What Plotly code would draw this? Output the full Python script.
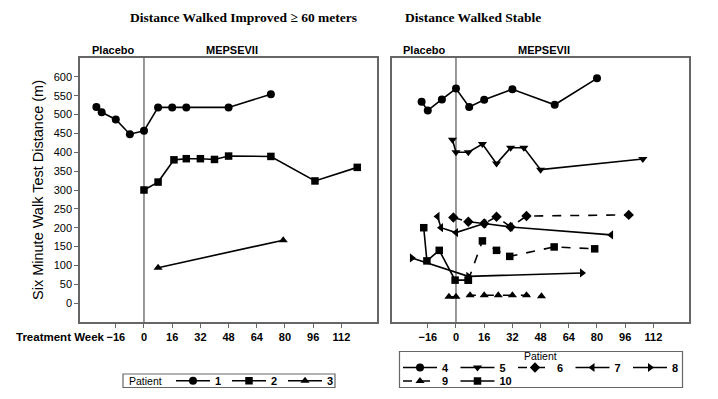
import plotly.graph_objects as go

# ---------------- data ----------------
weeks_ticks = [-16, 0, 16, 32, 48, 64, 80, 96, 112]
dist_ticks = list(range(0, 601, 50))

# Left panel: Distance Walked Improved >= 60 meters
p1_week = [-27, -24, -16, -8, 0, 8, 16, 24, 48, 72]
p1_dist = [520, 506, 487, 448, 457, 519, 519, 519, 519, 554]
p2_week = [0, 8, 17, 24, 32, 40, 48, 72, 97, 121]
p2_dist = [300, 321, 380, 383, 383, 381, 390, 389, 324, 360]
p3_week = [8, 79]
p3_dist = [94, 167]

# Right panel: Distance Walked Stable
p4_week = [-19.5, -16, -8, 0, 7.5, 16, 32, 56, 80]
p4_dist = [534, 511, 540, 569, 520, 539, 567, 526, 596]
p5_week = [-2, 0, 7, 15, 23, 31, 38.5, 48, 106]
p5_dist = [433, 400, 400, 422, 370, 412, 412, 354, 382]
p6_week = [-1.5, 7, 16, 23, 31, 40, 98]
p6_dist = [227, 216, 211, 229, 202, 231, 234]
p7_week = [-10.5, -8.5, 0, 16, 31, 88]
p7_dist = [230, 200, 187, 211, 202, 181]
p8_week = [-25, 7, 71.5]
p8_dist = [120, 71, 80]
p9_week = [-4, 0, 8, 16, 24, 32, 40, 48.5]
p9_dist = [17, 17, 21, 21, 21, 21, 21, 18]
p10_week = [-18.3, -16.5, -9.5, -0.5, 7]
p10_dist = [200, 112, 140, 61, 61]
p10b_week = [7, 15, 23, 30.5, 55.7, 78.7]
p10b_dist = [61, 165, 140, 124, 149, 144]

# ---------------- figure ----------------
W, H = 718, 399
fig = go.Figure()

FONT = "Liberation Sans, Arial, sans-serif"


def add(xs, ys, name, symbol, xa, ya, legend, dash="solid", showlegend=True, group=None, size=8):
    fig.add_trace(go.Scatter(
        x=xs, y=ys, mode="lines+markers", name=name,
        line=dict(color="black", width=1.6, dash=dash),
        marker=dict(symbol=symbol, size=size, color="black"),
        xaxis=xa, yaxis=ya, legend=legend, showlegend=showlegend,
        legendgroup=group or name,
    ))


add(p1_week, p1_dist, "1", "circle", "x", "y", "legend")
add(p2_week, p2_dist, "2", "square", "x", "y", "legend", size=7.5)
add(p3_week, p3_dist, "3", "triangle-up", "x", "y", "legend")

add(p4_week, p4_dist, "4", "circle", "x2", "y2", "legend2")
add(p5_week, p5_dist, "5", "triangle-down", "x2", "y2", "legend2")
add(p6_week, p6_dist, "6", "diamond", "x2", "y2", "legend2", dash="dash")
add(p7_week, p7_dist, "7", "triangle-left", "x2", "y2", "legend2")
add(p8_week, p8_dist, "8", "triangle-right", "x2", "y2", "legend2")
add(p9_week, p9_dist, "9", "triangle-up", "x2", "y2", "legend3", dash="dash")
add(p10_week, p10_dist, "10", "square", "x2", "y2", "legend3", size=7.5)
add(p10b_week, p10b_dist, "10", "square", "x2", "y2", "legend3", dash="dash",
    showlegend=False, group="10", size=7.5)

xr = [-36.3, 132.2]
yr = [-50, 650]
ydom = [(H - 322) / H, (H - 58) / H]
axis_common = dict(showline=True, mirror=True, linecolor="#666", linewidth=1.5,
                   showgrid=False, zeroline=False)

leg_common = dict(orientation="h", xanchor="left", yanchor="middle",
                  borderwidth=0, bgcolor="rgba(0,0,0,0)",
                  font=dict(size=11, weight="bold"), itemwidth=34,
                  tracegroupgap=0, itemclick=False)

fig.update_layout(
    width=W, height=H,
    margin=dict(l=0, r=0, t=0, b=0, autoexpand=False),
    paper_bgcolor="white", plot_bgcolor="white",
    font=dict(family=FONT, color="black", size=11),
    xaxis=dict(domain=[80 / W, 377 / W], range=xr, tickvals=weeks_ticks,
               ticks="outside", ticklen=4, tickcolor="#666",
               tickfont=dict(size=11, weight="bold"), anchor="y", **axis_common),
    yaxis=dict(domain=ydom, range=yr, tickvals=dist_ticks, ticks="outside",
               ticklen=4, tickcolor="#666", tickfont=dict(size=11),
               anchor="x", **axis_common),
    xaxis2=dict(domain=[392 / W, 689 / W], range=xr, tickvals=weeks_ticks,
                ticks="outside", ticklen=4, tickcolor="#666",
                tickfont=dict(size=11, weight="bold"), anchor="y2", **axis_common),
    yaxis2=dict(domain=ydom, range=yr, tickvals=dist_ticks, showticklabels=False,
                ticks="", anchor="x2", **axis_common),
    legend=dict(x=171 / W, y=(H - 380.7) / H, entrywidth=7, **leg_common),
    legend2=dict(x=398 / W, y=(H - 367.5) / H, entrywidth=8.5, **leg_common),
    legend3=dict(x=398 / W, y=(H - 381) / H, entrywidth=8.5, **leg_common),
    showlegend=True,
)

# zero reference lines
for xa, ya in (("x", "y"), ("x2", "y2")):
    fig.add_shape(type="line", xref=xa, yref=f"{ya} domain", x0=0, x1=0, y0=0, y1=1,
                  line=dict(color="#777", width=1.5), layer="below")

# legend frames
for x0, x1, y0, y1 in ((123, 335, 374, 387.5), (399.5, 682.5, 351.5, 387.5)):
    fig.add_shape(type="rect", xref="paper", yref="paper",
                  x0=x0 / W, x1=x1 / W, y0=(H - y1) / H, y1=(H - y0) / H,
                  line=dict(color="#666", width=1.2), fillcolor="rgba(0,0,0,0)")

ann = []
ann.append(dict(text="<b>Distance Walked Improved ≥ 60 meters</b>", x=244 / W, y=(H - 17) / H,
                font=dict(family="Liberation Serif, Times New Roman, serif", size=13.5)))
ann.append(dict(text="<b>Distance Walked Stable</b>", x=473 / W, y=(H - 17) / H,
                font=dict(family="Liberation Serif, Times New Roman, serif", size=13.5)))
for cx, t in ((112.5, "Placebo"), (232, "MEPSEVII"), (424, "Placebo"), (544, "MEPSEVII")):
    ann.append(dict(text=f"<b>{t}</b>", x=cx / W, y=(H - 50) / H, font=dict(size=11)))
ann.append(dict(text="Six Minute Walk Test Distance (m)", x=38 / W, y=(H - 190) / H,
                textangle=-90, font=dict(size=14.5)))
ann.append(dict(text="<b>Treatment Week</b>", x=14 / W, y=(H - 337) / H, xanchor="left",
                font=dict(size=11.5)))
ann.append(dict(text="Patient", x=127 / W, y=(H - 380.7) / H, xanchor="left",
                font=dict(size=10.5)))
ann.append(dict(text="Patient", x=540 / W, y=(H - 356) / H, font=dict(size=10.5)))
for a in ann:
    a.setdefault("xanchor", "center")
    a.update(xref="paper", yref="paper", showarrow=False, yanchor="middle")
fig.update_layout(annotations=ann)

fig.write_html("out.html", config={"displayModeBar": False},
               post_script="document.body.style.margin='0px';")
